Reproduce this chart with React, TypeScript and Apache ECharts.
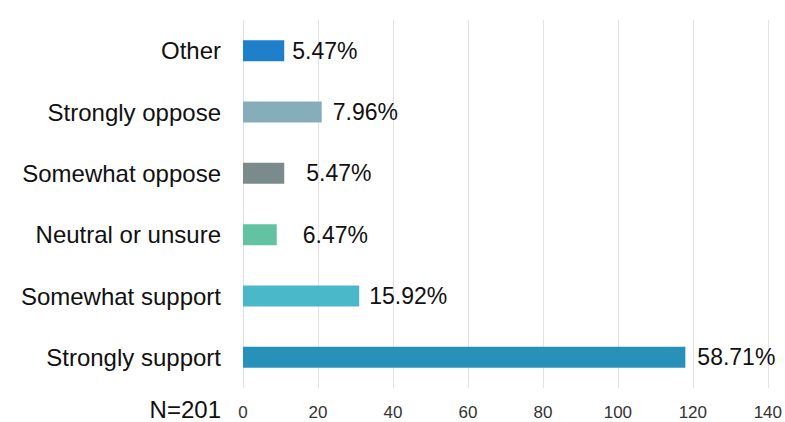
import React, { useEffect, useRef } from "react";
import * as echarts from "echarts";

// bottom-to-top order (ECharts category axis order)
const categories = [
  "Strongly support",
  "Somewhat support",
  "Neutral or unsure",
  "Somewhat oppose",
  "Strongly oppose",
  "Other",
];
const counts = [118, 31, 9, 11, 21, 11];
const percentLabels = ["58.71%", "15.92%", "6.47%", "5.47%", "7.96%", "5.47%"];
const xTicks = [0, 20, 40, 60, 80, 100, 120, 140];
const sampleNote = "N=201";

const barColors = ["#2891b9", "#4bb8c9", "#62c3a3", "#7b8b8b", "#87adbb", "#1f7fcb"];
const labelGaps = [12, 10, 26, 22, 11, 8];

export default function App() {
  const ref = useRef<HTMLDivElement>(null);
  useEffect(() => {
    if (!ref.current) return;
    const chart = echarts.init(ref.current, null, { renderer: "svg" });
    const font = "Liberation Sans, Arial, Helvetica, sans-serif";
    chart.setOption({
      animation: false,
      backgroundColor: "#ffffff",
      grid: { left: 243, right: 15, top: 20, bottom: 34, containLabel: false },
      xAxis: {
        type: "value",
        min: xTicks[0],
        max: xTicks[xTicks.length - 1],
        interval: 20,
        axisLine: { show: false },
        axisTick: { show: false },
        splitLine: { show: true, lineStyle: { color: "#e2e2e2", width: 1 } },
        axisLabel: {
          color: "#333333",
          fontSize: 17,
          fontFamily: font,
          margin: 16,
        },
      },
      yAxis: {
        type: "category",
        data: categories,
        axisLine: { show: false },
        axisTick: { show: false },
        splitLine: { show: false },
        axisLabel: {
          color: "#111111",
          fontSize: 24,
          fontFamily: font,
          margin: 22,
        },
      },
      graphic: [
        {
          type: "text",
          right: 785 - 221,
          top: 397,
          style: {
            text: sampleNote,
            fontSize: 24,
            fontFamily: font,
            fill: "#111111",
          },
        },
      ],
      series: [
        {
          type: "bar",
          barWidth: 21,
          data: counts.map((v, i) => ({
            value: v,
            itemStyle: { color: barColors[i] },
            label: {
              show: true,
              position: "right",
              distance: labelGaps[i],
              formatter: percentLabels[i],
              color: "#111111",
              fontSize: 23,
              fontFamily: font,
            },
          })),
        },
      ],
    });
    return () => chart.dispose();
  }, []);
  return (
    <div
      ref={ref}
      style={{ position: "fixed", left: 0, top: 0, width: 785, height: 422 }}
    />
  );
}
